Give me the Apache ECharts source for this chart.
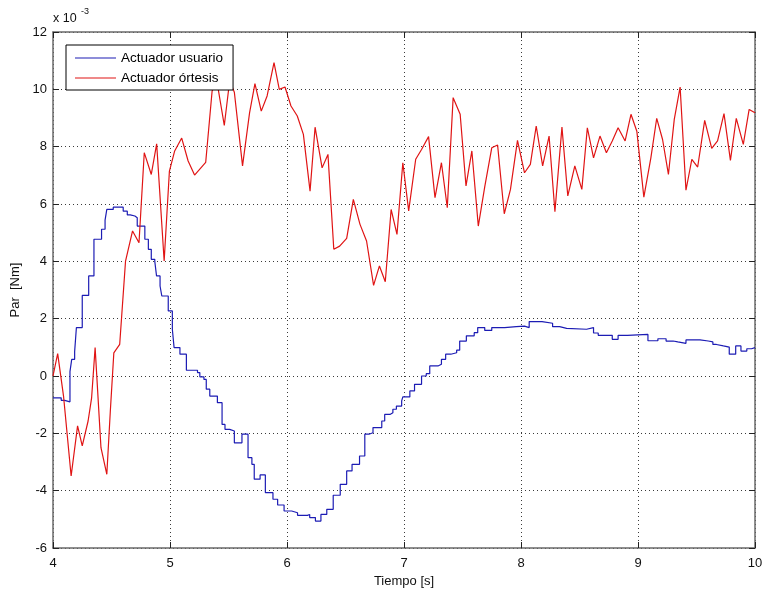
<!DOCTYPE html>
<html>
<head>
<meta charset="utf-8">
<script src="https://cdn.jsdelivr.net/npm/echarts@6/dist/echarts.min.js"></script>
<style>
  html, body { margin: 0; padding: 0; background: #fff; }
  #chart { width: 766px; height: 594px; }
</style>
</head>
<body>
<div id="chart"></div>
<script>
// Torque is stored in units of 1e-3 Nm; the axis shows the "x 10^-3" multiplier.
const xTicks = [4, 5, 6, 7, 8, 9, 10];
const yTicks = [-6, -4, -2, 0, 2, 4, 6, 8, 10, 12];

// User actuator: held (stepped) samples, each value starts at the given time
const usuarioT = [
  4.00, 4.07, 4.10, 4.145, 4.16, 4.185, 4.20, 4.25, 4.305, 4.35,
  4.415, 4.445, 4.46, 4.515, 4.60, 4.635, 4.66, 4.70, 4.72, 4.785,
  4.815, 4.84, 4.87, 4.885, 4.915, 4.93, 4.985, 5.02, 5.035, 5.085,
  5.14, 5.235, 5.255, 5.29, 5.31, 5.34, 5.405, 5.445, 5.47, 5.51,
  5.55, 5.615, 5.667, 5.70, 5.72, 5.77, 5.815, 5.88, 5.92, 5.975,
  6.04, 6.09, 6.175, 6.194, 6.243, 6.29, 6.34, 6.395, 6.455, 6.51,
  6.556, 6.62, 6.665, 6.70, 6.735, 6.81, 6.835, 6.88, 6.905, 6.935,
  6.98, 6.99, 7.05, 7.09, 7.15, 7.19, 7.22, 7.29, 7.32, 7.356,
  7.40, 7.45, 7.476, 7.533, 7.60, 7.63, 7.69, 7.75, 7.86, 7.96,
  8.03, 8.07, 8.18, 8.27, 8.33, 8.39, 8.56, 8.62, 8.66, 8.78,
  8.83, 8.91, 9.085, 9.17, 9.24, 9.30, 9.34, 9.41, 9.53, 9.60,
  9.64, 9.67, 9.73, 9.78, 9.835, 9.88, 9.93, 9.97, 10.0
];
const usuarioPar = [
  -0.76, -0.85, -0.90, 0.15, 0.58, 0.85, 1.69, 2.81, 3.49, 4.77,
  5.12, 5.44, 5.81, 5.89, 5.75, 5.62, 5.58, 5.52, 5.23, 4.77,
  4.42, 4.07, 4.00, 3.49, 3.14, 2.79, 2.27, 1.63, 0.99, 0.76,
  0.20, 0.12, -0.03, -0.12, -0.46, -0.70, -0.93, -1.69, -1.86, -1.92,
  -2.33, -2.03, -2.85, -3.08, -3.60, -3.45, -4.07, -4.30, -4.50, -4.71,
  -4.77, -4.86, -4.83, -4.94, -5.06, -4.83, -4.65, -4.16, -3.78, -3.31,
  -3.08, -2.79, -2.03, -1.98, -1.80, -1.57, -1.34, -1.28, -1.16, -1.05,
  -0.87, -0.73, -0.52, -0.29, 0.00, 0.08, 0.35, 0.41, 0.58, 0.76,
  0.81, 0.90, 1.22, 1.40, 1.51, 1.69, 1.59, 1.69, 1.72, 1.74,
  1.69, 1.90, 1.84, 1.72, 1.66, 1.63, 1.69, 1.50, 1.42, 1.28,
  1.42, 1.45, 1.23, 1.30, 1.22, 1.19, 1.14, 1.26, 1.22, 1.19,
  1.10, 1.05, 1.01, 0.76, 1.05, 0.87, 0.95, 0.99, 0.99
];

// Orthosis actuator samples
const ortesisT = [
  4.00, 4.04, 4.09, 4.155, 4.21, 4.25, 4.30, 4.33, 4.36, 4.41,
  4.46, 4.49, 4.52, 4.57, 4.62, 4.68, 4.735, 4.78, 4.84, 4.886,
  4.95, 4.995, 5.04, 5.10, 5.155, 5.21, 5.305, 5.36, 5.40, 5.464,
  5.51, 5.55, 5.62, 5.68, 5.726, 5.78, 5.83, 5.889, 5.934, 5.983,
  6.034, 6.088, 6.14, 6.197, 6.24, 6.30, 6.35, 6.40, 6.45, 6.51,
  6.567, 6.624, 6.68, 6.74, 6.79, 6.84, 6.89, 6.94, 6.99, 7.04,
  7.10, 7.15, 7.21, 7.265, 7.32, 7.37, 7.42, 7.48, 7.53, 7.58,
  7.635, 7.69, 7.75, 7.80, 7.857, 7.91, 7.97, 8.03, 8.08, 8.13,
  8.185, 8.24, 8.29, 8.35, 8.40, 8.46, 8.52, 8.567, 8.62, 8.675,
  8.73, 8.78, 8.83, 8.89, 8.94, 8.99, 9.05, 9.11, 9.16, 9.21,
  9.26, 9.31, 9.36, 9.41, 9.46, 9.51, 9.57, 9.63, 9.68, 9.735,
  9.79, 9.84, 9.90, 9.95, 10.0
];
const ortesisPar = [
  0.00, 0.78, -0.70, -3.49, -1.74, -2.44, -1.57, -0.76, 0.99, -2.50,
  -3.43, -1.22, 0.81, 1.10, 4.01, 5.06, 4.65, 7.79, 7.03, 8.10,
  4.01, 7.15, 7.85, 8.30, 7.50, 7.01, 7.45, 9.94, 10.30, 8.74,
  10.30, 9.90, 7.33, 9.18, 10.20, 9.24, 9.77, 10.93, 10.00, 10.08,
  9.42, 9.07, 8.43, 6.45, 8.68, 7.26, 7.73, 4.42, 4.53, 4.80,
  6.16, 5.29, 4.71, 3.16, 3.84, 3.29, 5.81, 4.94, 7.44, 5.76,
  7.56, 7.90, 8.35, 6.22, 7.44, 5.87, 9.71, 9.13, 6.63, 7.85,
  5.23, 6.60, 7.96, 8.06, 5.66, 6.51, 8.22, 7.09, 7.38, 8.72,
  7.33, 8.37, 5.73, 8.68, 6.28, 7.33, 6.51, 8.66, 7.61, 8.37,
  7.79, 8.20, 8.66, 8.20, 9.13, 8.54, 6.24, 7.61, 8.99, 8.25,
  7.03, 8.95, 10.08, 6.48, 7.56, 7.29, 8.92, 7.94, 8.20, 9.15,
  7.52, 8.99, 8.08, 9.30, 9.18
];

const FONT = 'Liberation Sans, Arial, sans-serif';
const BLUE = '#1c1cb4';
const RED = '#e01414';

const pairs = (xs, ys) => xs.map((x, i) => [x, ys[i]]);

const xRange = { min: xTicks[0], max: xTicks[xTicks.length - 1], interval: xTicks[1] - xTicks[0] };
const yRange = { min: yTicks[0], max: yTicks[yTicks.length - 1], interval: yTicks[1] - yTicks[0] };

const dotted = { color: '#3a3a3a', width: 1, type: [1, 3] };
const frame = { color: '#6a6a6a', width: 1.5 };
const tick = { show: true, inside: true, length: 6, lineStyle: { color: '#222', width: 1 } };

// thin horizontal bar used as the legend key (plain line, no marker)
const LINE_KEY = 'path://M0,0H41V1H0Z';

const chart = echarts.init(document.getElementById('chart'), null, { renderer: 'canvas' });

chart.setOption({
  animation: false,
  backgroundColor: '#ffffff',
  textStyle: { fontFamily: FONT },
  grid: { left: 53, right: 11, top: 32, bottom: 46, show: false },
  xAxis: [
    {
      type: 'value', position: 'bottom', ...xRange,
      name: 'Tiempo [s]', nameLocation: 'middle', nameGap: 21,
      nameTextStyle: { fontSize: 13, color: '#111', fontFamily: FONT },
      axisLine: { show: true, onZero: false, lineStyle: frame },
      axisTick: tick,
      axisLabel: { show: true, margin: 9, fontSize: 13, color: '#111', fontFamily: FONT },
      splitLine: { show: true, lineStyle: dotted }
    },
    {
      type: 'value', position: 'top', ...xRange,
      axisLine: { show: true, onZero: false, lineStyle: frame },
      axisTick: tick,
      axisLabel: { show: false },
      splitLine: { show: false }
    }
  ],
  yAxis: [
    {
      type: 'value', position: 'left', ...yRange,
      name: 'Par  [Nm]', nameLocation: 'middle', nameGap: 20, nameRotate: 90,
      nameTextStyle: { fontSize: 13, color: '#111', fontFamily: FONT },
      axisLine: { show: true, onZero: false, lineStyle: frame },
      axisTick: tick,
      axisLabel: { show: true, margin: 6, fontSize: 13, color: '#111', fontFamily: FONT },
      splitLine: { show: true, lineStyle: dotted }
    },
    {
      type: 'value', position: 'right', ...yRange,
      axisLine: { show: true, onZero: false, lineStyle: frame },
      axisTick: tick,
      axisLabel: { show: false },
      splitLine: { show: false }
    }
  ],
  legend: {
    orient: 'vertical',
    left: 66, top: 45,
    z: 20,
    padding: [6, 10, 5, 9],
    itemWidth: 41, itemHeight: 14, itemGap: 6,
    icon: LINE_KEY,
    backgroundColor: '#ffffff',
    borderColor: '#000000', borderWidth: 1, borderRadius: 0,
    textStyle: { fontSize: 13.5, color: '#000', fontFamily: FONT },
    data: [
      { name: 'Actuador usuario', itemStyle: { color: BLUE, borderWidth: 0 } },
      { name: 'Actuador órtesis', itemStyle: { color: RED, borderWidth: 0 } }
    ]
  },
  graphic: [
    { type: 'text', left: 53, top: 12, style: { text: 'x 10', font: '12.5px ' + FONT, fill: '#111' } },
    { type: 'text', left: 81, top: 7, style: { text: '-3', font: '9px ' + FONT, fill: '#111' } }
  ],
  series: [
    {
      name: 'Actuador usuario', type: 'line', xAxisIndex: 0, yAxisIndex: 0,
      data: pairs(usuarioT, usuarioPar), step: 'end',
      symbol: 'none', itemStyle: { color: BLUE },
      lineStyle: { color: BLUE, width: 1.2 }, z: 2
    },
    {
      name: 'Actuador órtesis', type: 'line', xAxisIndex: 0, yAxisIndex: 0,
      data: pairs(ortesisT, ortesisPar),
      symbol: 'none', itemStyle: { color: RED },
      lineStyle: { color: RED, width: 1.2 }, z: 3
    }
  ]
});
</script>
</body>
</html>
